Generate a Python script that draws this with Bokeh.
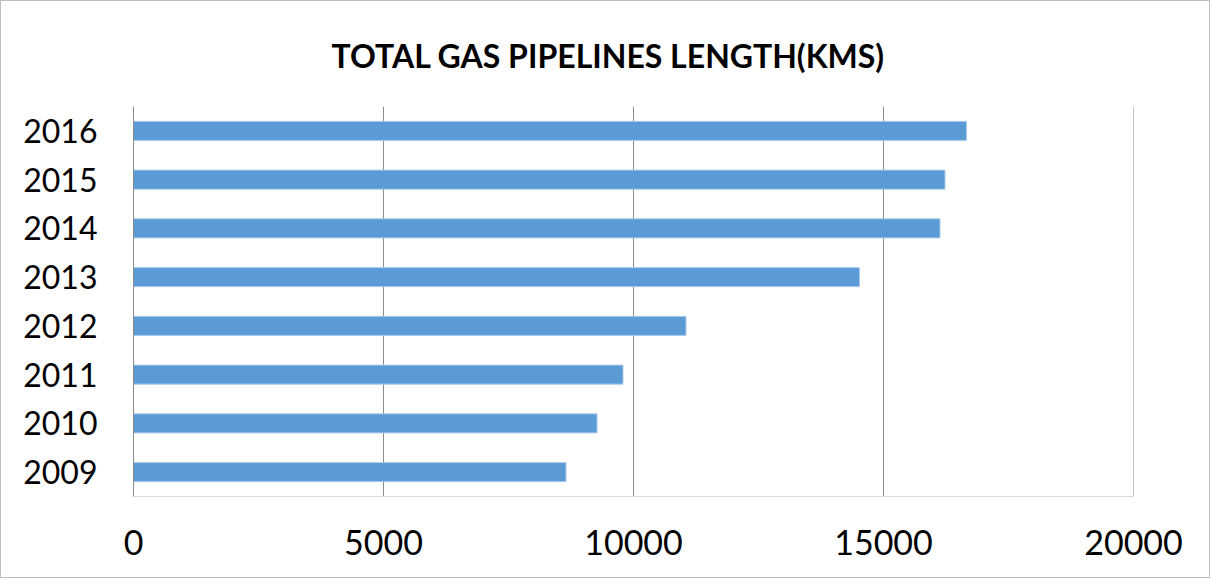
from bokeh.plotting import figure
from bokeh.models import ColumnDataSource, FactorRange, Range1d, FixedTicker, Span
from bokeh.embed import file_html
from bokeh.resources import INLINE

years = ["2009", "2010", "2011", "2012", "2013", "2014", "2015", "2016"]
lengths = [8650, 9270, 9790, 11050, 14520, 16130, 16230, 16660]
x_ticks = [0, 5000, 10000, 15000, 20000]

source = ColumnDataSource(data=dict(year=years, length=lengths))

p = figure(
    width=1208, height=576,
    y_range=FactorRange(factors=years),
    x_range=Range1d(0, 20000),
    output_backend="svg", toolbar_location=None,
    min_border_left=132, min_border_top=105, min_border_right=76, min_border_bottom=81,
    frame_width=1000, frame_height=390,
    title="TOTAL GAS PIPELINES LENGTH(KMS)",
)
p.styles = {"border": "1px solid #bfbfbf", "box-sizing": "border-box"}

p.hbar(y="year", right="length", left=0, height=0.39, source=source,
       fill_color="#5b9bd5", line_color="#a9c9ea", line_width=1)

p.add_layout(Span(location=x_ticks[-1], dimension="height",
                  line_color="#8c8c8c", line_width=1))

p.title.align = "left"
p.title.text_font = "Lato"
p.title.text_font_size = "32px"
p.title.text_font_style = "bold"
p.title.text_color = "#000000"
p.title.offset = 198
p.title.standoff = 64

p.outline_line_color = None
p.background_fill_color = "white"
p.border_fill_color = "white"

p.xaxis.ticker = FixedTicker(ticks=x_ticks)
p.xgrid.ticker = FixedTicker(ticks=x_ticks)
p.xgrid.grid_line_color = "#8c8c8c"
p.xgrid.grid_line_width = 1
p.ygrid.grid_line_color = None

for ax in (p.xaxis, p.yaxis):
    ax.major_tick_line_color = None
    ax.minor_tick_line_color = None
    ax.major_label_text_font = "Lato"
    ax.major_label_text_color = "#000000"

p.xaxis.axis_line_color = "#d9d9d9"
p.xaxis.major_label_text_font_size = "34px"
p.xaxis.major_label_standoff = 27
p.yaxis.axis_line_color = "#8c8c8c"
p.yaxis.major_label_text_font_size = "32px"
p.yaxis.major_label_standoff = 30

open("out.html", "w").write(file_html(p, INLINE))
